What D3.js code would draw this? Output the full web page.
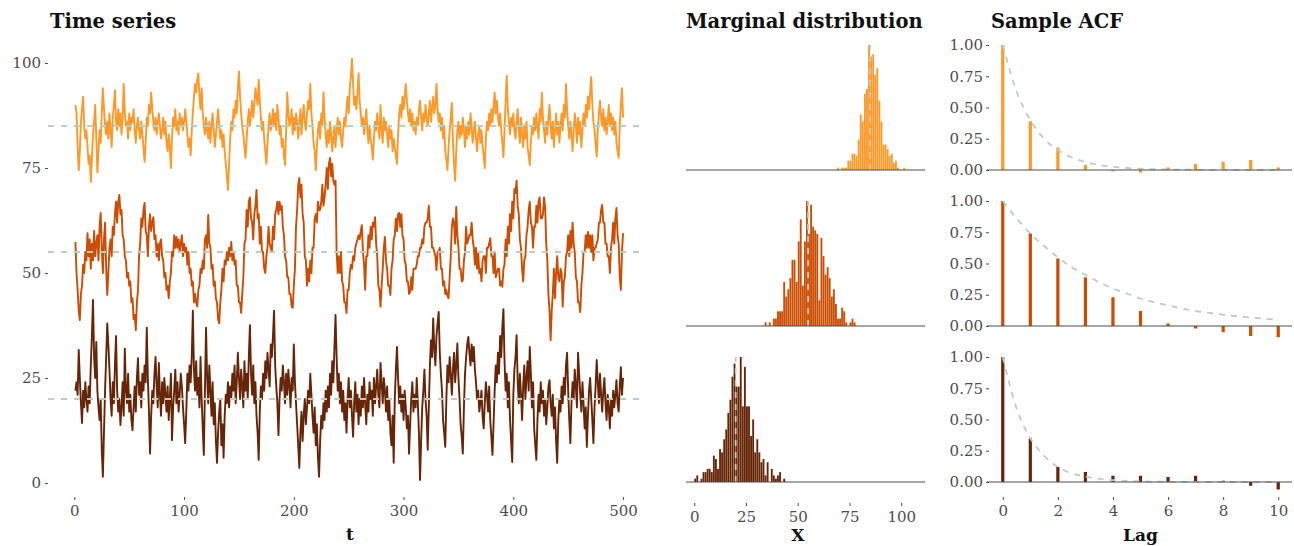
<!DOCTYPE html>
<html>
<head>
<meta charset="utf-8">
<script src="https://cdn.jsdelivr.net/npm/d3@7"></script>
<style>
  body { margin: 0; background: #fff; }
  svg text { font-family: "DejaVu Serif", serif; }
  .tick text { fill: #4d4d4d; font-size: 15px; }
  .tick line { stroke: #4d4d4d; }
  .title { font-size: 19.5px; font-weight: bold; fill: #111; }
  .axtitle { font-size: 17px; font-weight: bold; fill: #111; }
</style>
</head>
<body>
<div id="chartDiv"></div>
<script>
// series values (t = 1..500)
var seriesTop = [
90,88,80,74.5,79,86,89,92,85,82, 84,80,76,78,71.7,77,83,86,90,82,
74,79,84,81,88,94,89,85,83,86, 82,88,84,80,87,90,93.5,86,84,89,
85,88,83,87,95,88,85,86,82,88, 84,87,86,89,84,81,85,87,84,82,
86,83,80,76.5,81,87,85,90,88,93, 89,86,84,87,83,86,88,85,82,84,
87,83,86,81,79,83,80,75,82,87, 85,89,84,86,83,88,85,87,84,86,
89,86,83,80,82,78,84,88,92,95, 93,96,97.5,92,89,94,88,85,83,87,
84,82,86,81,85,88,84,80,83,86, 89,85,82,84,80,83,79,76,73,69.8,
76,82,86,84,89,87,91,88,94,98, 92,88,85,83,80,77.4,82,86,89,85,
88,91,87,90,94,92,90,96,91,87, 84,86,82,79,76,81,85,88,84,86,
89,85,88,84,90,87,83,85,80,82, 78,75.7,84,93,88,85,86,89,83,87,
84,88,86,82,85,89,83,87,90,86, 84,88,91,89,95,88,85,81,79,74.5,
80,84,86,82,88,85,93,87,83,80, 84,81,86,83,79,82,85,80,84,87,
83,86,82,80,84,87,85,89,92,88, 94,97,101,95,90,92,89,93,97.5,91,
88,85,87,83,86,89,84,81,85,82, 80,77,82,86,84,88,85,82,90,84,
81,87,84,86,83,80,85,82,84,79, 82,80,78,76,83,88,90,87,92,89,
92,95,91,88,86,89,85,88,84,86, 83,87,85,89,91,87,84,88,86,90,
87,85,88,91,86,89,92,88,90,95, 89,86,88,84,87,82,85,79,77,74.5,
80,84,87,90.5,81,76,72,79,84,86, 82,85,83,87,84,80,85,82,86,83,
88,85,81,84,86,82,79,83,85,81, 84,80,78,75,82,86,84,88,85,89,
86,90,93,88,91,87,85,88,84,81, 77.6,84,91,97,89,86,83,87,85,88,
84,82,86,89,84,81,87,83,80,85, 82,86,80,78,75.7,81,85,83,87,84,
88,85,82,89,86,93,87,84,81,86, 83,87,90,85,82,86,80,84,88,83,
86,81,85,88,84,90,87,95,89,85, 82,86,83,79,84,88,85,81,87,83,
86,80,84,88,85,90,87,92,89,93, 96.7,90,86,84,81,77.7,84,88,91,87,
85,89,84,87,83,86,90,85,88,84, 87,83,86,81,79,77.4,85,90,94,87
];
var seriesMid = [
57.4,50,46,41,38.8,45,47,52,50,55, 53,59.5,54,58,51,57,53,60,54,57,
59,53,61,64.3,56,50,58,62,51,44.8, 50,56,58,54,61,59,64,67,62,67,
68.6,64,65,59,58,54,53,49,50,47, 48,43,44,39,40,36.4,43,46,54,57,
63,61,65,66.7,60,59,54,61,64,60, 62,63.3,58,59,54,57,53,57,58,54,
53,49,50,46,47,44,48,50,55,54, 59,56,58.6,56,58,55,57,59,54,57,
55,56,52,55,50,51,47,48,43,45, 43,42,46,47,51,50,53,51,58,59,
56,63.8,57,56,51,52,47,48,44,43, 39,38,43,46,51,48,53,52,55,53,
56,54,57.4,53,55,52,53,47,47,43, 43,40.5,45,49,57,58,65,61,67,68,
63,62,58,64,66,69.8,63,64,57,61, 55,55,51,50,54,56,61,57,56,55,
61,58,64,65,67,64,67,65,66,61, 59,54,53,49,49,45,45,42,41.7,47,
51,61,65,71,72.6,68,71,64,62,54, 53,47,51,48,53,50,56,56,63,64,
62,67,65,65,67,71,66,68,71,75, 70,76,77.4,73,76,72,71,72,55,50,
54,50,55,48,47,43,43,40.5,46,46, 50,52,51,54,53,56,57,58,59,58,
60,61.4,55,52,46,54,54,59,56,61, 58,62,61,63.3,57,54,47,46,42,47,
51,56,58.6,53,51,47,47,44.8,51,53, 58,59,63,60,64,64.3,61,64,59,58,
53,52,48,48,45,45.5,49,46,51,51, 51,52,54,54,56,56,58,57,61,62,
62,63,66,61,61,56,56,55,54,50.7, 55,55,56,51,51,47,48,45,46,44.5,
44,49,54,61,63,62,57,65.7,59,56, 51,51,48,48.3,53,55,61,57,58,59,
59,62,58,56,52,56,51,55,50,51, 48,53,54,54,50,56,56,57,58.3,54,
54,50,55,49,50,51,51,47,48,46.7, 51,52,58,54,61,57,64,60,67,63,
70,69,72,66,64,58,56,51,48,53, 54,59,61,65,67,62,61,56,61,61,
66,62,67,68,63,63,64,68,65.7,57, 53,45,41,34,41,45,51,44,50,54,
49,48,51,50,42,48,49,54,55,59, 54,60,56,62,57,55,49,48,43,43,
40.7,47,50,55,55,59,56,59.8,56,59, 55,59,53,56,56,57,58,62,62,65,
66.2,62,62,57,57,54,54,50,56,58, 62,57,63,65.5,59,57,49,46,55,59.5
];
var seriesLow = [
22,24,21,31.7,25,19,14.3,22,18,24, 20,17,23,19,28,35,43.6,30,25,33.6,
22,18,15,20,8,1.5,12,22,30,38, 33,27,20,16,24,19,28,35,22,17,
20,13.8,18,24,16,32,22,19,26,17, 21,15,12.6,18,23,17,25,29.7,21,24,
18,26,22,28,24,37,25,17,7,16, 22,19,26,30,23,18,28.6,21,16,24,
19,25,21,17,23,15,20,26,10.2,18, 22,27,19,24,17,21,26,23,18,14,
9.5,17,26,22,28,24,30,41,27,22, 29,21,25,18,30,20,13,6.7,22,37,
25,19,28,22,16,24,14,19,10,4.8, 12,17,20,9,14,6,16,21,19,24,
18,23,20,26,22,28,19,24,31,25, 20,27,23,18,29,22,26,20,30,37.6,
26,21,28,19,24,16,12,5.5,17,23, 20,26,22,29,25,31,27,23,33,30,
35,41,28,23,19,11.4,20,25,22,28, 24,19,26,21,27,23,18,25,22,33,
24,19,14,9,3.6,12,17,10,16,20, 14,18,22,19,26,21,16,12,18,9,
14,6,1.5,10,16,13,19,15,22,17, 23,18,26,21,29,24,32,40,30,22,
26,19,24,17,22,15,19,12,20,25, 18,22,16,11,19,24,17,21,14,20,
16,23,18,25,19,14,21,17,24,20, 22,16,25,19,23,27,21,18,28.6,24,
19,25,22,17,23,15,20,12,9,16, 4.8,20,27,32.4,25,19,23,17,21,15,
22,18,13,16,7,14,20,24,17,21, 18,25,19,12,0.7,10,18,22,27,20,
16,7.9,18,28,34,30,39.2,32,28,35, 38,40.7,31,26,22,15,12,8.6,20,28,
24,30,26,21,27,31,24,28,33.2,25, 20,14,11,7,18,26,30,33,34.8,31,
28,33,29,32.4,27,24,20,22,17,19, 22,16,13,19,24,21,17,23,15,11,
6.7,14,22,28,24,31,26,35,30,37, 41.4,29,22,26,18,24,15,10,5,21,
27,30,35.2,24,19,26,21,15,23,28, 20,25,29,22,32.4,26,18,24,13,9,
5.5,15,21,17,24,19,22,16,20,14, 18,23,24.5,19,16,21,13,18,10,4.8,
15,20,17,23,19,25,21,28,31,22, 15,9.5,19,24,20,27,23,18,31,26,
21,17,24,19,13,18,8.6,16,22,25, 20,15,9.5,18,23,29.3,24,19,26,21,
17,22,25,19,15,21,18,13,20,16, 22,18,21,24.5,19,17,23,27.6,21,25
];
var seriesMeans = [85, 55, 20];
var seriesColors = ["#fe9929", "#cc4c02", "#662506"];

// sample ACF, lags 0..10
var lags = [0,1,2,3,4,5,6,7,8,9,10];
var acfTop = [1, 0.39, 0.18, 0.04, -0.01, -0.02, 0.02, 0.05, 0.065, 0.08, 0.02];
var acfMid = [1, 0.74, 0.54, 0.39, 0.23, 0.12, 0.02, -0.02, -0.05, -0.08, -0.09];
var acfLow = [1, 0.35, 0.12, 0.08, 0.05, 0.05, 0.04, 0.05, 0.01, -0.03, -0.06];
// dashed reference curve, lags 0, 0.5, ..., 10
var refTop = [1,.63,.40,.25,.16,.10,.064,.04,.026,.016,.01,.006,.004,.003,.002,.001,.001,0,0,0,0];
var refMid = [1,.86,.74,.64,.55,.47,.41,.35,.30,.26,.22,.19,.165,.14,.12,.105,.09,.078,.067,.058,.05];
var refLow = [1,.59,.35,.21,.12,.07,.043,.025,.015,.009,.005,.003,.002,.001,.001,0,0,0,0,0,0];

var tsTicks = [0, 25, 50, 75, 100];
var tTicks = [0, 100, 200, 300, 400, 500];
var xTicks = [0, 25, 50, 75, 100];
var acfTicks = [0, 0.25, 0.5, 0.75, 1];
var lagTicks = [0, 2, 4, 6, 8, 10];

var allSeries = [seriesTop, seriesMid, seriesLow];
var allAcf = [acfTop, acfMid, acfLow];
var allRef = [refTop, refMid, refLow];

var width = 1294, height = 546;
var dashColor = "#bccdc2";
var rowBase = [170, 326, 482];   // baseline of each facet row
var rowH = 125;

var chart = d3.select("#chartDiv").append("svg")
  .attr("width", width).attr("height", height);

// ---------- time series ----------
var tsX = d3.scaleLinear().domain([-24, 520]).range([48, 645]);
var tsY = d3.scaleLinear().domain([0, 100]).range([483, 63]);

chart.append("text").attr("class", "title").attr("x", 50).attr("y", 28).text("Time series");

chart.append("g").attr("transform", "translate(48,0)")
  .call(d3.axisLeft(tsY).tickValues(tsTicks).tickSize(3).tickPadding(4))
  .call(function(g) { g.select(".domain").remove(); });

chart.append("g").attr("transform", "translate(0,497)")
  .call(d3.axisBottom(tsX).tickValues(tTicks).tickSize(3).tickPadding(5))
  .call(function(g) { g.select(".domain").remove(); });

chart.append("text").attr("class", "axtitle").attr("text-anchor", "middle")
  .attr("x", 350).attr("y", 540).text("t");

var line = d3.line()
  .x(function(d, i) { return tsX(i + 1); })
  .y(function(d) { return tsY(d); });

allSeries.forEach(function(s, k) {
  chart.append("path").datum(s)
    .attr("d", line)
    .attr("fill", "none")
    .attr("stroke", seriesColors[k])
    .attr("stroke-width", 1.9)
    .attr("stroke-linejoin", "round");
});
seriesMeans.forEach(function(m) {
  chart.append("line")
    .attr("x1", tsX.range()[0]).attr("x2", tsX.range()[1])
    .attr("y1", tsY(m)).attr("y2", tsY(m))
    .attr("stroke", dashColor).attr("stroke-width", 1.8)
    .attr("stroke-dasharray", "6,7");
});

// ---------- marginal distribution ----------
var hX = d3.scaleLinear().domain([-4, 111.5]).range([686, 925]);
chart.append("text").attr("class", "title").attr("x", 686).attr("y", 28).text("Marginal distribution");

var binner = d3.bin().domain([0, 105]).thresholds(d3.range(0, 105, 1));

allSeries.forEach(function(s, k) {
  var bins = binner(s);
  var maxCount = d3.max(bins, function(b) { return b.length; });
  var hY = d3.scaleLinear().domain([0, maxCount]).range([rowBase[k], rowBase[k] - rowH]);
  chart.append("g").selectAll("rect").data(bins.filter(function(b) { return b.length > 0; }))
    .enter().append("rect")
      .attr("x", function(b) { return hX(b.x0); })
      .attr("width", function(b) { return hX(b.x1) - hX(b.x0) - 0.2; })
      .attr("y", function(b) { return hY(b.length); })
      .attr("height", function(b) { return rowBase[k] - hY(b.length); })
      .attr("fill", seriesColors[k]);
  chart.append("line")
    .attr("x1", hX(seriesMeans[k])).attr("x2", hX(seriesMeans[k]))
    .attr("y1", rowBase[k]).attr("y2", hY(maxCount))
    .attr("stroke", dashColor).attr("stroke-width", 1.8)
    .attr("stroke-dasharray", "6,6");
  chart.append("line")
    .attr("x1", hX.range()[0]).attr("x2", hX.range()[1])
    .attr("y1", rowBase[k]).attr("y2", rowBase[k])
    .attr("stroke", "#4d4d4d").attr("stroke-width", 1.2);
});

chart.append("g").attr("transform", "translate(0,503)")
  .call(d3.axisBottom(hX).tickValues(xTicks).tickSize(3).tickPadding(5))
  .call(function(g) { g.select(".domain").remove(); });
chart.append("text").attr("class", "axtitle").attr("text-anchor", "middle")
  .attr("x", hX(50)).attr("y", 541).text("X");

// ---------- sample ACF ----------
var aX = d3.scaleLinear().domain([-0.5, 10.5]).range([989, 1292]);
chart.append("text").attr("class", "title").attr("x", 991).attr("y", 28).text("Sample ACF");

allAcf.forEach(function(acf, k) {
  var aY = d3.scaleLinear().domain([0, 1]).range([rowBase[k], rowBase[k] - rowH]);
  chart.append("g").attr("transform", "translate(989,0)")
    .call(d3.axisLeft(aY).tickValues(acfTicks).tickFormat(d3.format(".2f")).tickSize(3).tickPadding(3))
    .call(function(g) { g.select(".domain").remove(); });

  chart.append("g").selectAll("rect").data(acf)
    .enter().append("rect")
      .attr("x", function(d, i) { return aX(lags[i]) - 1.6; })
      .attr("width", 3.2)
      .attr("y", function(d) { return Math.min(aY(d), aY(0)); })
      .attr("height", function(d) { return Math.abs(aY(d) - aY(0)); })
      .attr("fill", seriesColors[k]);

  var refLine = d3.line().curve(d3.curveMonotoneX)
    .x(function(d, i) { return aX(i * 0.5); })
    .y(function(d) { return aY(d); });
  chart.append("path").datum(allRef[k])
    .attr("d", refLine)
    .attr("fill", "none").attr("stroke", dashColor)
    .attr("stroke-width", 1.8).attr("stroke-dasharray", "6,6");

  chart.append("line")
    .attr("x1", aX.range()[0] - 2).attr("x2", aX.range()[1])
    .attr("y1", rowBase[k]).attr("y2", rowBase[k])
    .attr("stroke", "#4d4d4d").attr("stroke-width", 1.2);
});

chart.append("g").attr("transform", "translate(0,497)")
  .call(d3.axisBottom(aX).tickValues(lagTicks).tickSize(3).tickPadding(5))
  .call(function(g) { g.select(".domain").remove(); });
chart.append("text").attr("class", "axtitle").attr("text-anchor", "middle")
  .attr("x", aX(5)).attr("y", 541).text("Lag");
</script>
</body>
</html>
